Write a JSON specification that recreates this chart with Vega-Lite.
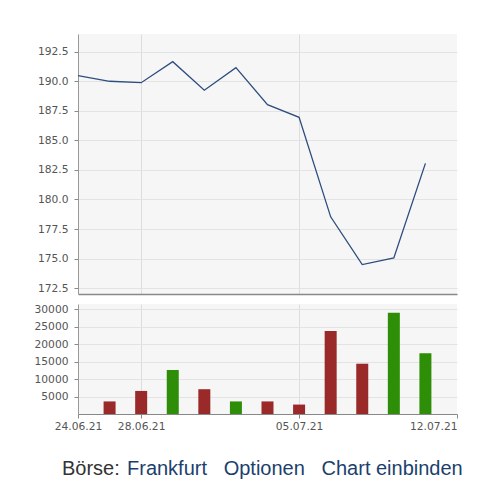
{
  "$schema": "https://vega.github.io/schema/vega-lite/v6.json",
  "background": "#ffffff",
  "padding": {"left": 34, "top": 34, "right": 6, "bottom": 0},
  "config": {
    "view": {"stroke": null, "fill": "#f6f6f6"},
    "axis": {
      "labelFont": "DejaVu Sans",
      "labelFontSize": 10.7,
      "labelColor": "#555555",
      "tickColor": "#888888",
      "tickSize": 4,
      "domainColor": "#999999",
      "gridColor": "#e3e3e3",
      "title": null
    }
  },
  "datasets": {
    "kurs": [
      {"datum": "24.06.21", "schluss": 190.47, "volumen": null, "tendenz": null},
      {"datum": "25.06.21", "schluss": 190.0, "volumen": 3600, "tendenz": "fallend"},
      {"datum": "28.06.21", "schluss": 189.88, "volumen": 6600, "tendenz": "fallend"},
      {"datum": "29.06.21", "schluss": 191.66, "volumen": 12600, "tendenz": "steigend"},
      {"datum": "30.06.21", "schluss": 189.24, "volumen": 7100, "tendenz": "fallend"},
      {"datum": "01.07.21", "schluss": 191.15, "volumen": 3600, "tendenz": "steigend"},
      {"datum": "02.07.21", "schluss": 188.02, "volumen": 3600, "tendenz": "fallend"},
      {"datum": "05.07.21", "schluss": 186.95, "volumen": 2700, "tendenz": "fallend"},
      {"datum": "06.07.21", "schluss": 178.53, "volumen": 23800, "tendenz": "fallend"},
      {"datum": "07.07.21", "schluss": 174.49, "volumen": 14400, "tendenz": "fallend"},
      {"datum": "08.07.21", "schluss": 175.05, "volumen": 29000, "tendenz": "steigend"},
      {"datum": "09.07.21", "schluss": 183.05, "volumen": 17400, "tendenz": "steigend"}
    ],
    "links": [
      {"wort": "Börse:", "art": "label"},
      {"wort": "Frankfurt\u00a0\u00a0\u00a0Optionen\u00a0\u00a0\u00a0Chart einbinden", "art": "link"}
    ]
  },
  "spacing": 9,
  "resolve": {"scale": {"x": "independent", "color": "independent"}},
  "vconcat": [
    {
      "width": 379,
      "height": 260,
      "data": {"name": "kurs"},
      "mark": {"type": "line", "color": "#2d4e7e", "strokeWidth": 1.3},
      "encoding": {
        "x": {
          "field": "datum",
          "type": "ordinal",
          "sort": null,
          "scale": {
            "type": "point",
            "padding": 0,
            "domain": ["24.06.21", "25.06.21", "28.06.21", "29.06.21", "30.06.21", "01.07.21", "02.07.21", "05.07.21", "06.07.21", "07.07.21", "08.07.21", "09.07.21", "12.07.21"]
          },
          "axis": {
            "values": ["28.06.21", "05.07.21"],
            "labels": false,
            "ticks": false,
            "grid": true,
            "gridColor": "#dddddd",
            "domainColor": "#888888",
            "domainWidth": 1.5
          }
        },
        "y": {
          "field": "schluss",
          "type": "quantitative",
          "scale": {"domain": [172, 194], "nice": false, "zero": false},
          "axis": {
            "values": [172.5, 175, 177.5, 180, 182.5, 185, 187.5, 190, 192.5],
            "format": ".1f",
            "labelPadding": 6
          }
        }
      }
    },
    {
      "width": 379,
      "height": 110,
      "data": {"name": "kurs"},
      "transform": [{"filter": "datum.volumen != null"}],
      "mark": {"type": "bar", "size": 12},
      "encoding": {
        "x": {
          "field": "datum",
          "type": "ordinal",
          "sort": null,
          "scale": {
            "type": "point",
            "padding": 0,
            "domain": ["24.06.21", "25.06.21", "28.06.21", "29.06.21", "30.06.21", "01.07.21", "02.07.21", "05.07.21", "06.07.21", "07.07.21", "08.07.21", "09.07.21", "12.07.21"]
          },
          "axis": {
            "values": ["24.06.21", "28.06.21", "05.07.21", "12.07.21"],
            "labelAngle": 0,
            "labelPadding": 3,
            "grid": true,
            "gridColor": {
              "condition": {"test": "datum.value == '28.06.21' || datum.value == '05.07.21'", "value": "#dddddd"},
              "value": "transparent"
            },
            "labelAlign": {
              "condition": {"test": "datum.value == '12.07.21'", "value": "right"},
              "value": "center"
            },
            "domainColor": "#888888"
          }
        },
        "y": {
          "field": "volumen",
          "type": "quantitative",
          "scale": {"domain": [0, 31500], "nice": false},
          "axis": {
            "values": [5000, 10000, 15000, 20000, 25000, 30000],
            "format": "d",
            "labelPadding": 6
          }
        },
        "color": {
          "field": "tendenz",
          "type": "nominal",
          "scale": {"domain": ["fallend", "steigend"], "range": ["#9a2a2a", "#2e8e08"]},
          "legend": null
        }
      }
    },
    {
      "width": 379,
      "height": 46,
      "view": {"fill": "#ffffff"},
      "data": {"name": "links"},
      "mark": {"type": "text", "align": "left", "baseline": "middle", "dy": 6, "font": "Liberation Sans", "fontSize": 20},
      "encoding": {
        "x": {
          "field": "wort",
          "type": "nominal",
          "sort": null,
          "scale": {"type": "point", "padding": 0, "range": [-16, 49]},
          "axis": null
        },
        "text": {"field": "wort"},
        "color": {
          "field": "art",
          "type": "nominal",
          "scale": {"domain": ["label", "link"], "range": ["#333333", "#1c3f6e"]},
          "legend": null
        }
      }
    }
  ]
}
